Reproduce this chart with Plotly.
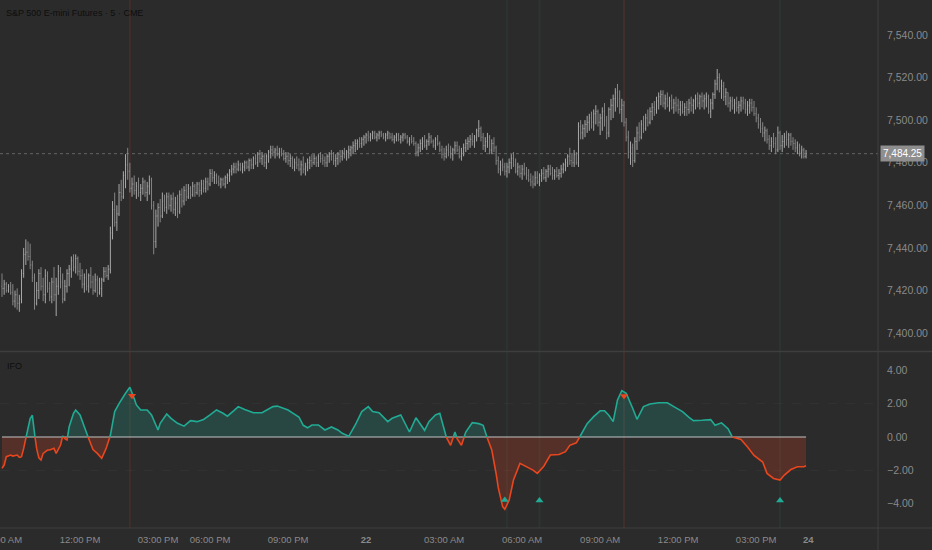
import plotly.graph_objects as go

# =====================================================
# DATA  (5-minute bars, S&P 500 E-mini)
# =====================================================
first_open = 7422

bar_low = [
    7417, 7418, 7419, 7419, 7418, 7413, 7412, 7411, 7410, 7414, 7426, 7432,
    7434, 7430, 7424, 7411, 7413, 7416, 7420, 7415, 7414, 7419, 7415, 7414,
    7415, 7408, 7418, 7421, 7414, 7415, 7419, 7422, 7426, 7429, 7428, 7427,
    7425, 7421, 7419, 7420, 7419, 7421, 7418, 7419, 7417, 7418, 7417, 7424,
    7426, 7425, 7428, 7444, 7450, 7448, 7455, 7462, 7463, 7468, 7472, 7466,
    7464, 7465, 7463, 7464, 7462, 7465, 7464, 7462, 7465, 7458, 7437, 7440,
    7450, 7452, 7454, 7457, 7456, 7458, 7457, 7456, 7455, 7454, 7456, 7459,
    7460, 7462, 7463, 7463, 7464, 7464, 7465, 7464, 7465, 7466, 7466, 7467,
    7469, 7471, 7470, 7470, 7469, 7468, 7469, 7468, 7470, 7471, 7474, 7475,
    7475, 7476, 7476, 7475, 7476, 7477, 7476, 7477, 7477, 7479, 7478, 7480,
    7479, 7478, 7477, 7480, 7482, 7483, 7482, 7483, 7482, 7483, 7481, 7480,
    7479, 7478, 7477, 7476, 7477, 7476, 7474, 7475, 7474, 7476, 7477, 7478,
    7479, 7478, 7478, 7480, 7479, 7478, 7478, 7480, 7481, 7479, 7478, 7479,
    7480, 7481, 7482, 7481, 7482, 7483, 7484, 7485, 7486, 7487, 7487, 7488,
    7489, 7490, 7490, 7491, 7491, 7490, 7491, 7492, 7491, 7490, 7491, 7491,
    7490, 7489, 7490, 7490, 7489, 7490, 7491, 7489, 7488, 7489, 7488, 7483,
    7483, 7485, 7486, 7487, 7486, 7488, 7489, 7487, 7486, 7488, 7485, 7482,
    7481, 7482, 7483, 7482, 7481, 7484, 7485, 7482, 7481, 7483, 7485, 7486,
    7487, 7488, 7487, 7490, 7492, 7490, 7486, 7485, 7487, 7484, 7484, 7485,
    7479, 7475, 7474, 7476, 7474, 7473, 7475, 7477, 7478, 7475, 7474, 7473,
    7472, 7474, 7472, 7471, 7469, 7468, 7469, 7470, 7469, 7471, 7472, 7471,
    7473, 7474, 7472, 7472, 7473, 7472, 7473, 7475, 7476, 7478, 7479, 7478,
    7478, 7479, 7478, 7491, 7491, 7492, 7494, 7495, 7496, 7495, 7498, 7497,
    7493, 7495, 7497, 7491, 7492, 7500, 7501, 7504, 7506, 7503, 7499, 7497,
    7490, 7482, 7479, 7478, 7480, 7486, 7490, 7491, 7494, 7495, 7497, 7498,
    7500, 7502, 7503, 7505, 7507, 7506, 7505, 7506, 7504, 7505, 7503, 7504,
    7503, 7502, 7503, 7502, 7502, 7503, 7504, 7503, 7505, 7506, 7505, 7506,
    7505, 7506, 7503, 7501, 7505, 7510, 7514, 7513, 7510, 7509, 7507, 7506,
    7504, 7505, 7503, 7504, 7503, 7504, 7505, 7503, 7502, 7503, 7504, 7502,
    7499, 7496, 7494, 7492, 7490, 7489, 7486, 7485, 7487, 7484, 7485, 7486,
    7485, 7487, 7488, 7487, 7488, 7486, 7485, 7484, 7483, 7482, 7482, 7482,
]

bar_high = [
    7428, 7425, 7424, 7423, 7424, 7423, 7420, 7421, 7418, 7430, 7440, 7444,
    7443, 7442, 7434, 7428, 7424, 7430, 7431, 7426, 7430, 7429, 7424, 7426,
    7431, 7426, 7432, 7431, 7428, 7425, 7430, 7432, 7436, 7437, 7437, 7436,
    7433, 7430, 7428, 7430, 7428, 7431, 7427, 7428, 7427, 7426, 7426, 7431,
    7431, 7432, 7450, 7462, 7466, 7460, 7470, 7472, 7476, 7484, 7487, 7480,
    7473, 7474, 7471, 7473, 7470, 7473, 7472, 7471, 7474, 7473, 7462, 7458,
    7461, 7463, 7466, 7465, 7466, 7466, 7465, 7466, 7464, 7465, 7467, 7468,
    7469, 7470, 7470, 7469, 7471, 7470, 7471, 7471, 7472, 7472, 7473, 7473,
    7477, 7477, 7476, 7475, 7474, 7473, 7473, 7474, 7475, 7477, 7479, 7480,
    7480, 7481, 7480, 7480, 7481, 7481, 7482, 7482, 7483, 7484, 7485, 7486,
    7485, 7484, 7484, 7486, 7488, 7488, 7487, 7488, 7487, 7487, 7486, 7485,
    7485, 7484, 7483, 7482, 7483, 7482, 7481, 7483, 7480, 7482, 7483, 7484,
    7484, 7483, 7484, 7485, 7484, 7483, 7484, 7485, 7486, 7485, 7484, 7485,
    7486, 7486, 7487, 7486, 7488, 7488, 7490, 7491, 7491, 7492, 7492, 7493,
    7494, 7495, 7494, 7495, 7495, 7494, 7495, 7495, 7494, 7494, 7495, 7494,
    7494, 7493, 7494, 7494, 7493, 7494, 7494, 7493, 7492, 7493, 7492, 7490,
    7489, 7491, 7492, 7493, 7491, 7494, 7493, 7491, 7492, 7493, 7490, 7488,
    7487, 7488, 7489, 7488, 7487, 7490, 7490, 7488, 7487, 7489, 7491, 7492,
    7493, 7494, 7493, 7496, 7500, 7497, 7494, 7492, 7494, 7493, 7491, 7492,
    7488, 7483, 7481, 7482, 7480, 7480, 7482, 7484, 7485, 7482, 7480, 7479,
    7479, 7480, 7478, 7477, 7475, 7474, 7476, 7476, 7475, 7477, 7478, 7477,
    7479, 7479, 7478, 7477, 7478, 7477, 7479, 7480, 7482, 7484, 7487, 7484,
    7486, 7485, 7499, 7500, 7498, 7500, 7502, 7503, 7504, 7505, 7507, 7505,
    7503, 7506, 7508, 7502, 7506, 7510, 7512, 7515, 7517, 7514, 7510, 7509,
    7501, 7495, 7490, 7489, 7492, 7497, 7499, 7500, 7502, 7503, 7505, 7506,
    7508, 7509, 7511, 7513, 7514, 7514, 7512, 7513, 7511, 7512, 7510, 7511,
    7510, 7509, 7509, 7508, 7509, 7510, 7511, 7510, 7512, 7513, 7512, 7513,
    7512, 7513, 7512, 7510, 7513, 7519, 7524, 7522, 7519, 7518, 7515, 7513,
    7511, 7511, 7510, 7511, 7509, 7511, 7511, 7510, 7509, 7510, 7510, 7509,
    7506, 7503, 7501, 7499, 7497, 7496, 7493, 7492, 7494, 7492, 7497, 7495,
    7493, 7494, 7495, 7494, 7494, 7492, 7491, 7490, 7489, 7488, 7487, 7486,
]

bar_close = [
    7421, 7423, 7420, 7422, 7419, 7415, 7418, 7414, 7416, 7428, 7437, 7438,
    7436, 7432, 7426, 7414, 7420, 7428, 7422, 7418, 7427, 7421, 7417, 7424,
    7418, 7422, 7429, 7424, 7416, 7422, 7428, 7430, 7434, 7431, 7435, 7429,
    7427, 7423, 7426, 7422, 7427, 7424, 7420, 7425, 7419, 7421, 7425, 7429,
    7427, 7430, 7447, 7458, 7452, 7456, 7466, 7464, 7474, 7479, 7476, 7468,
    7470, 7467, 7469, 7466, 7468, 7471, 7466, 7469, 7472, 7460, 7443, 7455,
    7459, 7455, 7462, 7459, 7464, 7460, 7463, 7458, 7461, 7457, 7465, 7462,
    7467, 7464, 7468, 7465, 7469, 7466, 7470, 7467, 7470, 7468, 7471, 7470,
    7475, 7473, 7474, 7471, 7470, 7472, 7470, 7473, 7474, 7476, 7477, 7478,
    7477, 7479, 7477, 7478, 7480, 7478, 7481, 7479, 7482, 7480, 7484, 7482,
    7483, 7480, 7483, 7485, 7486, 7485, 7486, 7484, 7485, 7484, 7482, 7483,
    7481, 7482, 7478, 7480, 7479, 7477, 7479, 7477, 7478, 7480, 7481, 7480,
    7482, 7480, 7483, 7482, 7481, 7480, 7483, 7484, 7483, 7481, 7482, 7484,
    7483, 7485, 7484, 7485, 7486, 7487, 7488, 7489, 7490, 7489, 7491, 7492,
    7493, 7492, 7493, 7494, 7492, 7493, 7494, 7493, 7492, 7493, 7494, 7492,
    7491, 7492, 7493, 7491, 7492, 7493, 7492, 7490, 7491, 7490, 7489, 7485,
    7487, 7489, 7490, 7488, 7490, 7492, 7490, 7488, 7491, 7489, 7486, 7484,
    7483, 7486, 7485, 7484, 7486, 7488, 7486, 7483, 7485, 7487, 7489, 7490,
    7491, 7490, 7492, 7495, 7496, 7492, 7488, 7490, 7492, 7486, 7489, 7487,
    7481, 7477, 7479, 7478, 7476, 7478, 7480, 7482, 7479, 7476, 7478, 7475,
    7477, 7475, 7474, 7472, 7471, 7470, 7473, 7471, 7474, 7475, 7473, 7476,
    7477, 7475, 7474, 7476, 7474, 7475, 7477, 7479, 7480, 7483, 7481, 7480,
    7484, 7480, 7497, 7494, 7496, 7498, 7499, 7501, 7499, 7503, 7504, 7499,
    7501, 7504, 7500, 7494, 7505, 7507, 7510, 7513, 7510, 7505, 7507, 7499,
    7492, 7485, 7487, 7481, 7490, 7494, 7492, 7498, 7496, 7501, 7499, 7504,
    7506, 7505, 7509, 7511, 7512, 7508, 7510, 7507, 7509, 7506, 7508, 7507,
    7505, 7507, 7504, 7506, 7505, 7508, 7507, 7509, 7510, 7508, 7511, 7509,
    7510, 7511, 7504, 7508, 7512, 7517, 7520, 7515, 7516, 7511, 7513, 7508,
    7509, 7507, 7508, 7506, 7507, 7509, 7508, 7505, 7507, 7508, 7506, 7503,
    7501, 7498, 7496, 7494, 7495, 7491, 7488, 7490, 7489, 7486, 7494, 7488,
    7490, 7492, 7491, 7493, 7490, 7489, 7487, 7488, 7485, 7486, 7483, 7484.25,
]
last_price = 7484.25

# IFO oscillator, sampled at bar indices where it was read
ifo_idx = [
    0, 1, 2, 4, 5, 7, 8, 9, 10, 12, 13, 14, 15, 16, 17, 18, 19, 21, 22, 24,
    25, 27, 28, 29, 30, 31, 33, 34, 36, 38, 40, 42, 44, 46, 48, 49, 50, 52,
    54, 57, 59, 61, 62, 64, 67, 69, 72, 73, 76, 78, 81, 84, 87, 90, 93, 96,
    99, 102, 104, 107, 109, 112, 116, 120, 122, 125, 127, 132, 134, 137, 139,
    141, 143, 146, 149, 152, 155, 157, 160, 163, 166, 169, 171, 174, 178, 180,
    184, 186, 188, 191, 193, 195, 197, 200, 202, 204, 205, 206, 207, 209, 210,
    212, 214, 217, 220, 222, 224, 226, 228, 229, 231, 232, 234, 236, 239, 242,
    245, 247, 250, 253, 257, 260, 262, 265, 267, 270, 273, 276, 278, 280, 282,
    284, 286, 288, 291, 293, 296, 299, 303, 307, 310, 314, 317, 319, 323, 327,
    329, 332, 335, 337, 341, 344, 347, 351, 353, 356, 359, 361, 364, 367, 370,
    371,
]
ifo_val = [
    -1.88, -1.68, -1.18, -1.08, -1.14, -1.08, -1.22, -1.18, -0.68, 0.52, 1.10,
    1.30, 0.20, -0.70, -1.25, -1.38, -0.98, -0.78, -0.78, -0.68, -0.98, -0.48,
    0.06, -0.10, -0.18, 0.62, 1.42, 1.62, 1.32, 0.60, -0.10, -0.75, -0.98,
    -1.28, -0.70, -0.30, 0.10, 1.52, 2.00, 2.62, 2.98, 2.30, 1.92, 1.62, 1.62,
    1.32, 0.42, 0.82, 1.38, 1.12, 0.82, 0.65, 0.98, 0.92, 1.05, 1.32, 1.62,
    1.42, 1.25, 1.58, 1.82, 1.65, 1.45, 1.45, 1.58, 1.82, 1.85, 1.62, 1.45,
    1.20, 0.70, 0.55, 0.72, 0.72, 0.42, 0.60, 0.42, 0.22, 0.04, 0.72, 1.52,
    1.82, 1.52, 1.45, 0.92, 1.12, 1.32, 0.80, 0.30, 1.15, 0.80, 0.40, 0.92,
    1.32, 1.42, 0.50, 0.00, -0.30, -0.50, 0.30, -0.10, -0.50, 0.30, 0.86,
    0.80, 0.70, -0.10, -0.78, -2.20, -3.05, -4.17, -4.33, -3.78, -2.58, -1.58,
    -1.78, -1.98, -2.18, -1.75, -1.08, -1.05, -0.88, -0.50, -0.35, 0.10, 0.80,
    1.22, 1.57, 1.57, 1.30, 0.92, 2.22, 2.78, 2.62, 1.72, 1.06, 1.82, 1.98,
    2.05, 2.05, 1.82, 1.52, 1.18, 0.98, 1.00, 1.04, 0.70, 0.85, 0.50, 0.00,
    -0.15, -0.60, -1.10, -1.50, -2.18, -2.48, -2.58, -2.28, -1.95, -1.78,
    -1.78, -1.72,
]

# signal markers on the IFO pane
sell_idx = [60, 287]
sell_val = [2.47, 2.45]
buy_idx = [232, 248, 359]
buy_val = [-3.78, -3.80, -3.80]

# time axis
tick_idx = [0, 36, 72, 96, 132, 168, 204, 240, 276, 312, 348, 372]
tick_text = ["09:00 AM", "12:00 PM", "03:00 PM", "06:00 PM", "09:00 PM",
             "<b>22</b>", "03:00 AM", "06:00 AM", "09:00 AM", "12:00 PM",
             "03:00 PM", "<b>24</b>"]

price_ticks = [7400, 7420, 7440, 7460, 7480, 7500, 7520, 7540]
ifo_ticks = [-4, -2, 0, 2, 4]

# =====================================================
# STYLE
# =====================================================
BG = "#2b2b2b"
SEP = "#3e3e3e"
TXT = "#8a8a8a"
UP = "#a8a8a8"
DN = "#858585"
GREEN = "#22ab94"
RED = "#e8461e"
GREEN_FILL = "rgba(34,171,148,0.22)"
RED_FILL = "rgba(232,70,30,0.22)"
FONT = "Liberation Sans, Arial, sans-serif"

X_RANGE = [-0.92, 404.2]
W, H = 932, 550
M_R, M_B = 54, 22


def split_by_sign(xs, ys):
    """Cut the line into runs of one sign, adding the zero crossings."""
    segs = []
    cx, cy = [xs[0]], [ys[0]]
    pos = ys[0] >= 0
    for k in range(1, len(xs)):
        x0, y0, x1, y1 = xs[k - 1], ys[k - 1], xs[k], ys[k]
        p = y1 >= 0
        if p != pos:
            xc = x0 + (x1 - x0) * (0 - y0) / (y1 - y0)
            cx.append(xc)
            cy.append(0)
            segs.append((cx, cy, pos))
            cx, cy = [xc], [0]
            pos = p
        cx.append(x1)
        cy.append(y1)
    segs.append((cx, cy, pos))
    return segs


# =====================================================
# FIGURE
# =====================================================
idx = list(range(len(bar_close)))
bar_open = [first_open] + bar_close[:-1]   # open taken as previous close

fig = go.Figure()

fig.add_trace(go.Ohlc(
    x=idx, open=bar_open, high=bar_high, low=bar_low, close=bar_close,
    increasing=dict(line=dict(color=UP, width=1)),
    decreasing=dict(line=dict(color=DN, width=1)),
    tickwidth=0.3, xaxis="x", yaxis="y",
))

segs = split_by_sign(ifo_idx, ifo_val)

# fills
for sx, sy, p in segs:
    fig.add_trace(go.Scatter(
        x=sx, y=sy, mode="none", fill="tozeroy",
        fillcolor=GREEN_FILL if p else RED_FILL,
        xaxis="x2", yaxis="y2", hoverinfo="skip",
    ))

# zero line over the data span
fig.add_trace(go.Scatter(
    x=[idx[0], idx[-1]], y=[0, 0], mode="lines",
    line=dict(color="rgba(200,200,200,0.65)", width=1.5),
    xaxis="x2", yaxis="y2", hoverinfo="skip",
))

# coloured oscillator line
for sx, sy, p in segs:
    fig.add_trace(go.Scatter(
        x=sx, y=sy, mode="lines",
        line=dict(color=GREEN if p else RED, width=1.6),
        xaxis="x2", yaxis="y2",
    ))

fig.add_trace(go.Scatter(
    x=sell_idx, y=sell_val, mode="markers",
    marker=dict(symbol="triangle-down", size=7, color=RED),
    xaxis="x2", yaxis="y2",
))
fig.add_trace(go.Scatter(
    x=buy_idx, y=buy_val, mode="markers",
    marker=dict(symbol="triangle-up", size=7, color=GREEN),
    xaxis="x2", yaxis="y2",
))

# -------------------------------------------------
# shapes: signal highlights, last price, separators
# -------------------------------------------------
shapes = []
for b in [59, 287]:
    shapes.append(dict(type="line", xref="x", yref="paper", x0=b, x1=b,
                       y0=0, y1=1, layer="below",
                       line=dict(color="rgba(140,60,55,0.22)", width=2)))
for b in [233, 248, 359]:
    shapes.append(dict(type="line", xref="x", yref="paper", x0=b, x1=b,
                       y0=0, y1=1, layer="below",
                       line=dict(color="rgba(60,140,120,0.09)", width=2)))

shapes.append(dict(type="line", xref="paper", yref="y", x0=0, x1=1,
                   y0=last_price, y1=last_price,
                   line=dict(color="rgba(150,150,150,0.55)", width=1, dash="dot")))

full_w = W / (W - M_R)
plot_h = H - M_B
shapes.append(dict(type="line", xref="paper", yref="paper", x0=0, x1=full_w,
                   y0=0.3343, y1=0.3343, line=dict(color=SEP, width=1.5)))
shapes.append(dict(type="line", xref="paper", yref="paper", x0=0, x1=full_w,
                   y0=0, y1=0, line=dict(color=SEP, width=1)))
shapes.append(dict(type="line", xref="paper", yref="paper", x0=1, x1=1,
                   y0=-M_B / plot_h, y1=1, line=dict(color=SEP, width=1)))

for lv in [-2, 2]:
    shapes.append(dict(type="line", xref="paper", yref="y2", x0=0, x1=1,
                       y0=lv, y1=lv, layer="below",
                       line=dict(color="rgba(255,255,255,0.035)", width=1, dash="dash")))

annotations = [
    dict(text="S&P 500 E-mini Futures · 5 · CME", xref="paper", yref="paper",
         x=0, y=1, xanchor="left", yanchor="top", xshift=4, yshift=-6,
         showarrow=False, font=dict(size=9, color="#0e0e0e")),
    dict(text="IFO", xref="paper", yref="paper", x=0, y=0.3333,
         xanchor="left", yanchor="top", xshift=5, yshift=-7,
         showarrow=False, font=dict(size=9, color="#0e0e0e")),
    dict(text="7,484.25", xref="paper", yref="y", x=1, y=last_price,
         xanchor="left", yanchor="middle", xshift=2, showarrow=False,
         bgcolor="#8e8e8e", borderpad=2, font=dict(size=10, color="#ffffff")),
]

axis_common = dict(showgrid=False, zeroline=False, showline=False, ticks="",
                   automargin=False)

fig.update_layout(
    width=W, height=H,
    margin=dict(l=0, r=M_R, t=0, b=M_B, autoexpand=False),
    paper_bgcolor=BG, plot_bgcolor=BG,
    showlegend=False,
    font=dict(family=FONT, size=10, color=TXT),
    xaxis=dict(domain=[0, 1], anchor="y", range=X_RANGE, matches="x2",
               showticklabels=False, rangeslider=dict(visible=False),
               **axis_common),
    xaxis2=dict(domain=[0, 1], anchor="y2", range=X_RANGE,
                tickmode="array", tickvals=tick_idx, ticktext=tick_text,
                ticklabeloverflow="allow", ticklabelstandoff=4,
                tickfont=dict(size=9.5, color=TXT), **axis_common),
    yaxis=dict(domain=[0.3352, 1], anchor="x", side="right",
               range=[7391.6, 7556.4], tickmode="array", tickvals=price_ticks,
               tickformat=",.2f", ticklabelstandoff=8,
               tickfont=dict(size=10.5), **axis_common),
    yaxis2=dict(domain=[0, 0.3333], anchor="x2", side="right",
                range=[-5.45, 5.09], tickmode="array", tickvals=ifo_ticks,
                tickformat=".2f", ticklabelstandoff=8,
                tickfont=dict(size=10.5), **axis_common),
    shapes=shapes,
    annotations=annotations,
)

# page body has an 8px default margin; drop it so the chart fills the window
fig.write_html("out.html", config={"displayModeBar": False},
               post_script="document.body.style.margin='0';")
